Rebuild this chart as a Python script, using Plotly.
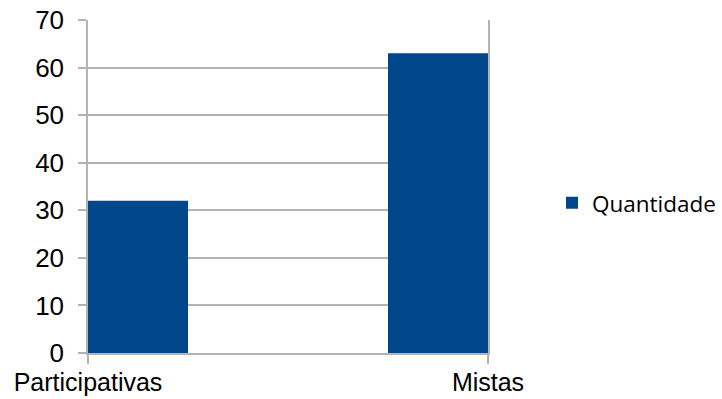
import plotly.graph_objects as go

categories = ["Participativas", "Mistas"]
quantidade = [32, 63]
y_ticks = [0, 10, 20, 30, 40, 50, 60, 70]

bar_color = "#00468b"
grid_color = "#b3b3b3"

fig = go.Figure()
fig.add_trace(go.Bar(
    x=categories,
    y=quantidade,
    name="Quantidade",
    width=0.5,
    marker=dict(color=bar_color, line=dict(width=0)),
))

fig.update_layout(
    width=722,
    height=399,
    margin=dict(l=88, r=234, t=20, b=46, autoexpand=False),
    paper_bgcolor="white",
    plot_bgcolor="white",
    font=dict(family="Liberation Sans, Arial, sans-serif", size=26, color="black"),
    showlegend=True,
    legend=dict(
        x=1.16, xref="paper", xanchor="left",
        y=0.45, yanchor="middle",
        font=dict(family="Open Sans, sans-serif", size=22.5, color="black"),
        bgcolor="rgba(0,0,0,0)",
    ),
    xaxis=dict(
        type="category",
        range=[0, 1],
        showgrid=False,
        showline=True,
        linecolor=grid_color,
        linewidth=1.5,
        ticks="outside",
        ticklen=9,
        tickcolor=grid_color,
        tickwidth=1.5,
        zeroline=False,
        automargin=False,
        tickfont=dict(size=25),
        ticklabelstandoff=-3,
    ),
    yaxis=dict(
        range=[0, 70],
        tickvals=y_ticks,
        showgrid=True,
        gridcolor=grid_color,
        gridwidth=1.5,
        showline=True,
        mirror=True,
        linecolor=grid_color,
        linewidth=1.5,
        ticks="outside",
        ticklen=8,
        tickcolor=grid_color,
        tickwidth=1.5,
        zeroline=False,
        ticklabelstandoff=9,
        automargin=False,
    ),
)

fig.write_html("out.html")
